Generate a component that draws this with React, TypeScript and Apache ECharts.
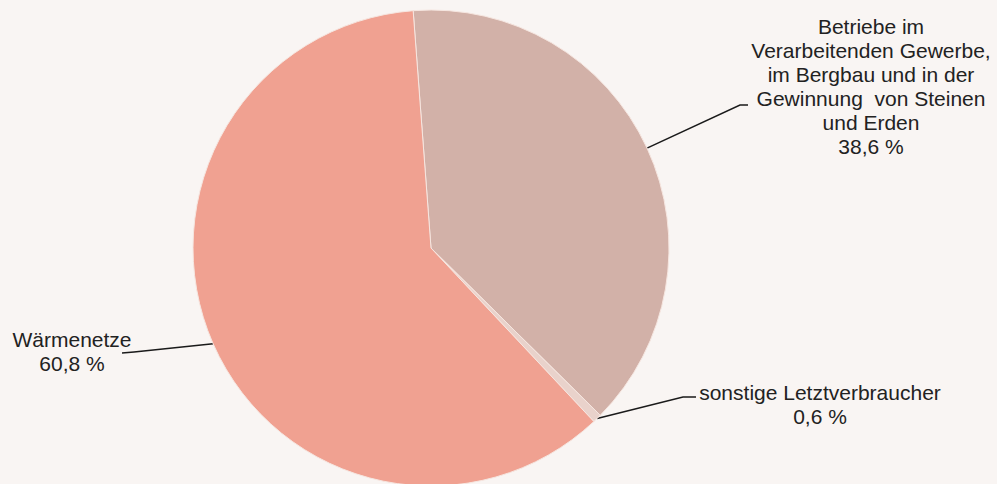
import React, { useEffect, useRef } from "react";
import * as echarts from "echarts";

const categories = [
  "Betriebe im\nVerarbeitenden Gewerbe,\nim Bergbau und in der\nGewinnung  von Steinen\nund Erden",
  "sonstige Letztverbraucher",
  "Wärmenetze",
];
const values = [38.6, 0.6, 60.8];
const valueLabels = ["38,6 %", "0,6 %", "60,8 %"];
const colors = ["#d2b1a8", "#e9d2cb", "#f0a191"];

// label anchor (centre of text block) and leader-line knee/end points
const labelAnchors = [
  [871, 86],
  [820, 404],
  [72, 351],
];
const labelKnees = [
  [[740, 105], [748, 105]],
  [[683, 397], [696, 397]],
  [[134, 352], [122, 353]],
];

export default function App() {
  const ref = useRef<HTMLDivElement>(null);
  useEffect(() => {
    if (!ref.current) return;
    const chart = echarts.init(ref.current, null, { renderer: "svg" });
    chart.setOption({
      animation: false,
      backgroundColor: "#f9f5f3",
      textStyle: { fontFamily: "Liberation Sans, Arial, sans-serif" },
      series: [
        {
          type: "pie",
          center: [431, 248],
          radius: 238,
          startAngle: 94.3,
          clockwise: true,
          avoidLabelOverlap: false,
          silent: true,
          data: categories.map((name, i) => ({
            name,
            value: values[i],
            itemStyle: { color: colors[i] },
          })),
          itemStyle: { borderColor: "#f6e6e0", borderWidth: 1 },
          label: {
            show: true,
            position: "outside",
            formatter: (p: any) => `${p.name}\n${valueLabels[p.dataIndex]}`,
            fontSize: 21,
            lineHeight: 24,
            color: "#222222",
            align: "center",
            fontFamily: "Liberation Sans, Arial, sans-serif",
          },
          labelLine: {
            show: true,
            lineStyle: { color: "#1a1a1a", width: 1.5 },
          },
          labelLayout: (params: any) => {
            const i = params.dataIndex;
            const start = params.labelLinePoints
              ? params.labelLinePoints[0]
              : labelKnees[i][0];
            return {
              x: labelAnchors[i][0],
              y: labelAnchors[i][1],
              align: "center",
              verticalAlign: "middle",
              labelLinePoints: [start, labelKnees[i][0], labelKnees[i][1]],
            };
          },
        },
      ],
    });
    return () => chart.dispose();
  }, []);
  return (
    <div
      ref={ref}
      style={{ position: "absolute", left: 0, top: 0, width: 997, height: 484 }}
    />
  );
}
